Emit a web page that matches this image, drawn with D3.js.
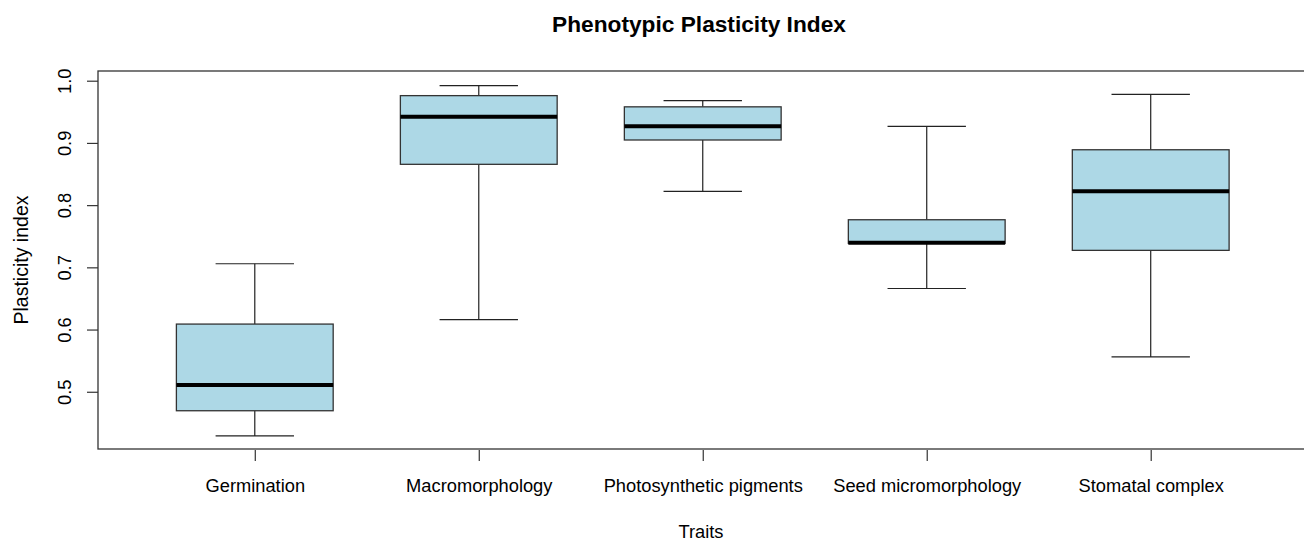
<meta charset="utf-8">
<head>
<style>
  body { margin: 0; background: #fff; }
  text { font-family: "Liberation Sans", Arial, sans-serif; fill: #000; }
</style>
</head>
<body>
<div id="chartId"></div>
</body>
<script src="https://d3js.org/d3.v7.min.js"></script>
<script>

// five number summaries
var traits = ["Germination", "Macromorphology", "Photosynthetic pigments", "Seed micromorphology", "Stomatal complex"];
var lowWhisker  = [0.429, 0.616, 0.822, 0.666, 0.556];
var lowerQuart  = [0.4695, 0.8656, 0.9047, 0.7386, 0.7273];
var medians     = [0.5108, 0.942, 0.9267, 0.7395, 0.8222];
var upperQuart  = [0.6088, 0.976, 0.958, 0.7765, 0.889];
var highWhisker = [0.7058, 0.992, 0.968, 0.9267, 0.978];
var yTicks = [0.5, 0.6, 0.7, 0.8, 0.9, 1.0];

var width = 1304, height = 543;
// (window.top is read-only, so no "top" here)
var plotL = 98, plotR = 1307.5, plotT = 71, plotB = 449;
var fontAxis = "18.3px";

var svg = d3.select("#chartId").append("svg")
	.attr("width", width)
	.attr("height", height);

var x = d3.scaleLinear().domain([0.3, 5.7]).range([plotL, plotR]);
var y = d3.scaleLinear().domain([0.408, 1.0156]).range([plotB, plotT]);

var boxW = 0.7 * (x(2) - x(1));
var capW = boxW / 2;

var data = traits.map(function(t, i) {
	return { name: t, pos: i + 1, lo: lowWhisker[i], q1: lowerQuart[i], med: medians[i], q3: upperQuart[i], hi: highWhisker[i] };
});

var g = svg.selectAll("g.box")
	.data(data)
	.enter()
	.append("g")
	.attr("class", "box");

// whiskers
g.append("line")
	.attr("x1", function(d) { return x(d.pos); })
	.attr("x2", function(d) { return x(d.pos); })
	.attr("y1", function(d) { return y(d.hi); })
	.attr("y2", function(d) { return y(d.q3); })
	.attr("stroke", "#222").attr("stroke-width", 1.2);
g.append("line")
	.attr("x1", function(d) { return x(d.pos); })
	.attr("x2", function(d) { return x(d.pos); })
	.attr("y1", function(d) { return y(d.q1); })
	.attr("y2", function(d) { return y(d.lo); })
	.attr("stroke", "#222").attr("stroke-width", 1.2);
// staples
["hi", "lo"].forEach(function(k) {
	g.append("line")
		.attr("x1", function(d) { return x(d.pos) - capW / 2; })
		.attr("x2", function(d) { return x(d.pos) + capW / 2; })
		.attr("y1", function(d) { return y(d[k]); })
		.attr("y2", function(d) { return y(d[k]); })
		.attr("stroke", "#222").attr("stroke-width", 1.2);
});

// boxes
g.append("rect")
	.attr("x", function(d) { return x(d.pos) - boxW / 2; })
	.attr("y", function(d) { return y(d.q3); })
	.attr("width", boxW)
	.attr("height", function(d) { return y(d.q1) - y(d.q3); })
	.attr("fill", "#ADD8E6")
	.attr("stroke", "#333")
	.attr("stroke-width", 1.3);

// medians
g.append("line")
	.attr("x1", function(d) { return x(d.pos) - boxW / 2; })
	.attr("x2", function(d) { return x(d.pos) + boxW / 2; })
	.attr("y1", function(d) { return y(d.med); })
	.attr("y2", function(d) { return y(d.med); })
	.attr("stroke", "#000").attr("stroke-width", 4);

// frame
svg.append("rect")
	.attr("x", plotL).attr("y", plotT)
	.attr("width", plotR - plotL).attr("height", plotB - plotT)
	.attr("fill", "none").attr("stroke", "#333").attr("stroke-width", 1.3);

// x axis
var xAxis = d3.axisBottom(x)
	.tickValues(d3.range(1, traits.length + 1))
	.tickFormat(function(d) { return traits[d - 1]; })
	.tickSize(11)
	.tickPadding(18);
var gx = svg.append("g").attr("transform", "translate(0," + (plotB + 1) + ")").call(xAxis);
gx.select(".domain").remove();
gx.selectAll(".tick line").attr("stroke", "#333").attr("stroke-width", 1.2);
gx.selectAll(".tick text").style("font-size", fontAxis).style("font-family", "'Liberation Sans', Arial, sans-serif").attr("fill", "#111");

// y axis
var yAxis = d3.axisLeft(y)
	.tickValues(yTicks)
	.tickFormat(d3.format(".1f"))
	.tickSize(11);
var gy = svg.append("g").attr("transform", "translate(" + plotL + ",0)").call(yAxis);
gy.select(".domain").remove();
gy.selectAll(".tick line").attr("stroke", "#333").attr("stroke-width", 1.2);
gy.selectAll(".tick text")
	.attr("x", null).attr("dy", null)
	.attr("text-anchor", "middle")
	.attr("transform", "translate(-27,0) rotate(-90)")
	.style("font-size", fontAxis).style("font-family", "'Liberation Sans', Arial, sans-serif").attr("fill", "#111");

// titles
svg.append("text")
	.attr("x", 699).attr("y", 32)
	.attr("text-anchor", "middle")
	.style("font-size", "22.7px").style("font-weight", "bold")
	.text("Phenotypic Plasticity Index");

svg.append("text")
	.attr("x", 701).attr("y", 538)
	.attr("text-anchor", "middle")
	.style("font-size", fontAxis)
	.text("Traits");

svg.append("text")
	.attr("transform", "translate(28," + ((plotT + plotB) / 2) + ") rotate(-90)")
	.attr("text-anchor", "middle")
	.style("font-size", "19.5px")
	.text("Plasticity index");

</script>
